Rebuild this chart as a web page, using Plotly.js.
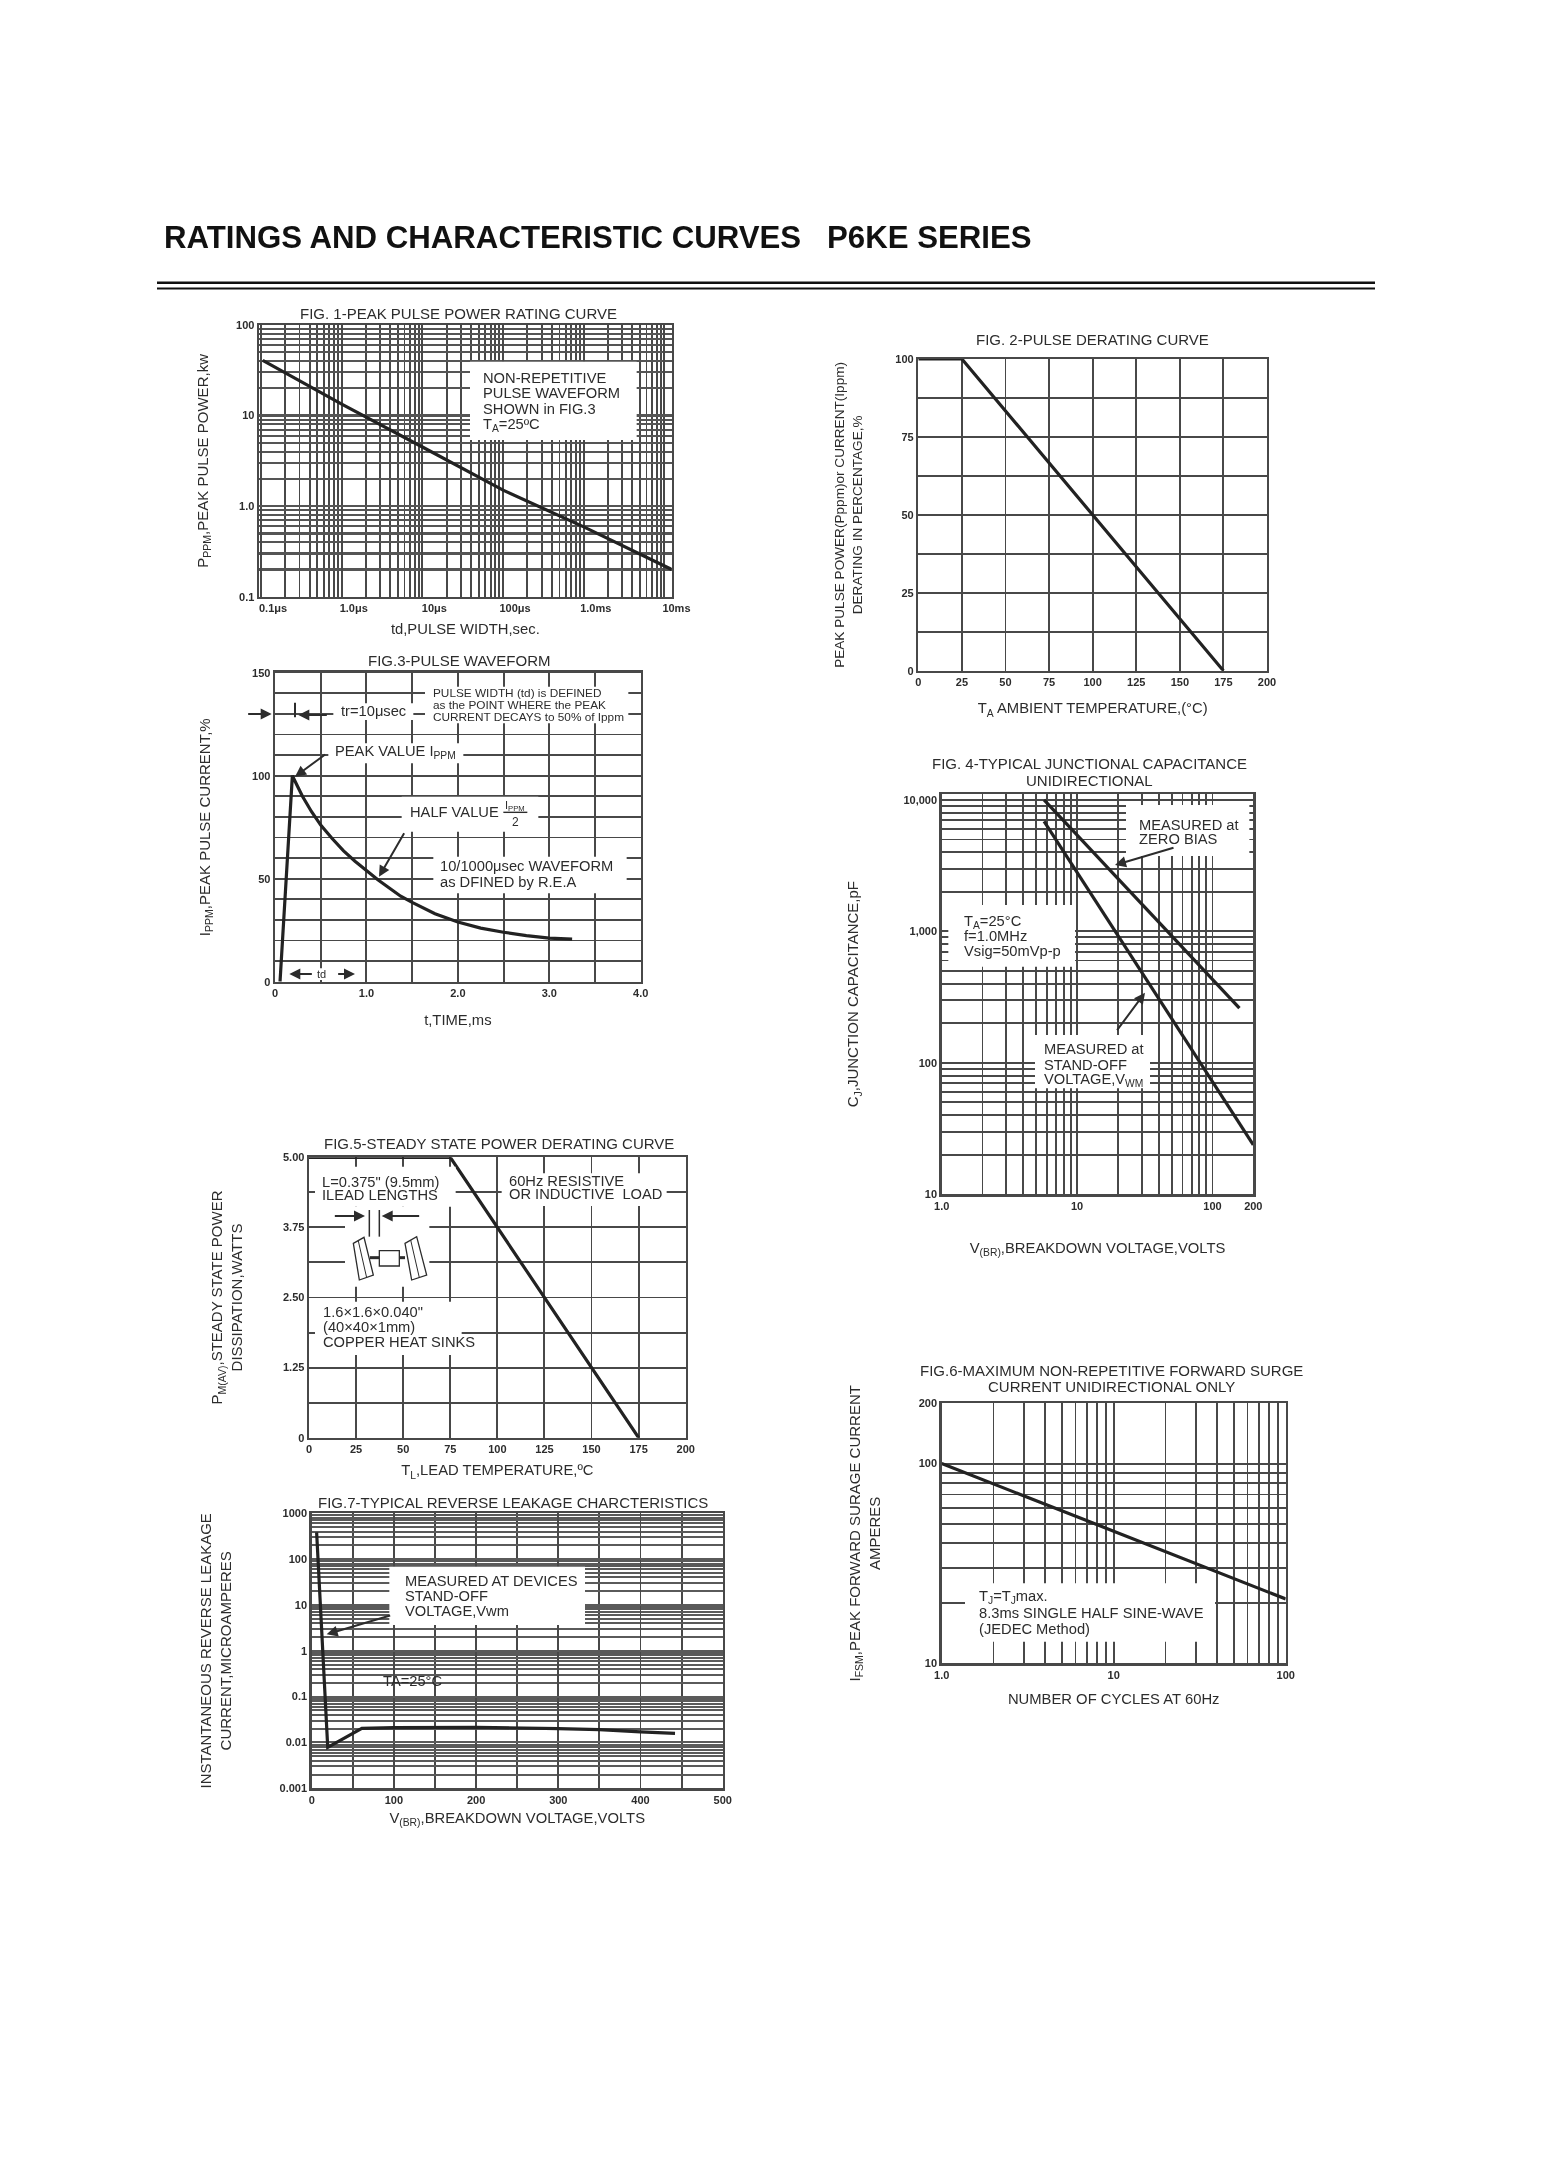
<!DOCTYPE html>
<html><head><meta charset="utf-8">
<script src="https://cdn.plot.ly/plotly-3.0.1.min.js"></script>
<style>html,body{margin:0;padding:0;background:#fff}#chart{width:1542px;height:2182px;filter:blur(0.55px)}</style>
</head><body><div id="chart"></div>
<script>
// ---------- data ----------
const fig1Width=[0.105,1,10,100,1000,12300];
const fig1Power=[40.7,13.4,4.5,1.5,0.59,0.2];
const fig1Ticks=[0.1,1,10,100,1000,10000];
const fig1TickText=['0.1μs','1.0μs','10μs','100μs','1.0ms','10ms'];
const fig1YTicks=[0.1,1,10,100];
const fig1YText=['0.1','1.0','10','100'];

const fig2Temp=[0,25,175];
const fig2Derate=[100,100,0];

const fig3Time=[0.055,0.19,0.25,0.3,0.4,0.5,0.625,0.75,0.875,1,1.125,1.25,1.375,1.5,1.75,2,2.25,2.5,2.75,3,3.25];
const fig3Current=[0,100,94.5,90,82.5,76,69.5,63.5,58.5,54,49.5,45.5,41.5,38.5,33,29,26,24,22.4,21.2,20.7];

const fig4VoltsZero=[5.7,158];
const fig4CapZero=[10000,261];
const fig4VoltsStand=[5.7,200];
const fig4CapStand=[6880,23.8];

const fig5Temp=[0,75,175];
const fig5Power=[5,5,0];

const fig6Cycles=[1,10,100];
const fig6Surge=[100,45.9,21];

const fig7Volts=[6,19.5,61,100,200,300,350,400,442];
const fig7Leak=[385,0.00785,0.0204,0.021,0.0215,0.02,0.019,0.017,0.0158];
const fig7YTicks=[0.001,0.01,0.1,1,10,100,1000];
const fig7YText=['0.001','0.01','0.1','1','10','100','1000'];

const temp200Ticks=[0,25,50,75,100,125,150,175,200];

// ---------- page geometry ----------
const W=1542,H=2182;
const ink='#2c2c2c', lineInk='#484848', curveInk='#222';
const family='"Liberation Sans",Arial,sans-serif';
const noteSize=14.7;
const PX=x=>x/W, PY=y=>1-y/H;
const layout={
  width:W,height:H,margin:{l:0,r:0,t:0,b:0},paper_bgcolor:'#fff',plot_bgcolor:'#fff',showlegend:false,
  font:{family:family,color:ink},
  title:{text:'RATINGS AND CHARACTERISTIC CURVES\u00a0\u00a0\u00a0P6KE SERIES',x:PX(164),xanchor:'left',xref:'paper',y:PY(237),yanchor:'middle',yref:'paper',
    font:{family:family,size:31.2,weight:'bold',color:'#111'}},
  annotations:[],shapes:[]
};
const traces=[];
let axisCount=0;
function baseAxis(){return {showline:true,mirror:true,linecolor:lineInk,linewidth:2.4,zeroline:false,ticks:'',
  showgrid:true,gridcolor:lineInk,gridwidth:1.9,tickfont:{size:11,weight:'bold',family:family,color:ink},
  tickmode:'array',automargin:false,fixedrange:true};}
function panel(o){
  axisCount++;
  const n=axisCount===1?'':axisCount;
  const xa=baseAxis(), ya=baseAxis();
  const yw=o.ygrid||1.9, yc=o.ygridcolor||lineInk;
  Object.assign(xa,{domain:[PX(o.box[0]),PX(o.box[2])],anchor:'y'+n,type:o.xlog?'log':'linear',range:o.xrange,tickvals:o.xticks,ticktext:o.xtext,
    title:{text:o.xtitle,standoff:o.xstand,font:{size:14.8,family:family,color:ink}},minor:{showgrid:true,dtick:o.xminor,gridcolor:lineInk,gridwidth:1.9,ticks:''},
    ticklabelstandoff:o.xlabelgap||0,ticklabelshift:o.xlabelshift||0});
  Object.assign(ya,{domain:[PY(o.box[3]),PY(o.box[1])],anchor:'x'+n,type:o.ylog?'log':'linear',range:o.yrange,tickvals:o.yticks,ticktext:o.ytext,gridwidth:yw,gridcolor:yc,
    title:{text:o.ytitle,standoff:o.ystand,font:{size:o.ysize||15,family:family,color:ink}},minor:{showgrid:true,dtick:o.yminor,gridcolor:yc,gridwidth:yw,ticks:''},
    ticklabelstandoff:o.ylabelgap||0});
  layout['xaxis'+n]=xa; layout['yaxis'+n]=ya;
  o.curves.forEach(c=>traces.push({type:'scatter',mode:'lines',x:c[0],y:c[1],xaxis:'x'+n,yaxis:'y'+n,line:{color:curveInk,width:3.2,simplify:false},cliponaxis:true,hoverinfo:'skip'}));
  o.caption.forEach((t,i)=>text(o.capX,o.capY+i*o.capGap,t,15,'center'));
}
function text(x,y,t,size,anchor,col){layout.annotations.push({xref:'paper',yref:'paper',x:PX(x),y:PY(y),text:t,showarrow:false,xanchor:anchor||'left',yanchor:'middle',font:{size:size||noteSize,family:family,color:col||ink}});}
function lines(ox,oy,zx,zy,arr,size,gap){arr.forEach((t,i)=>text(ox+zx/3,oy+(zy+i*gap)/3,t,size));}
function white(ox,oy,x0,y0,x1,y1){layout.shapes.push({type:'rect',xref:'paper',yref:'paper',layer:'above',x0:PX(ox+x0/3),x1:PX(ox+x1/3),y0:PY(oy+y0/3),y1:PY(oy+y1/3),fillcolor:'#fff',line:{width:0}});}
function seg(ox,oy,x0,y0,x1,y1,w){layout.shapes.push({type:'line',xref:'paper',yref:'paper',layer:'above',x0:PX(ox+x0/3),x1:PX(ox+x1/3),y0:PY(oy+y0/3),y1:PY(oy+y1/3),line:{color:ink,width:w||1.5}});}
function arrow(ox,oy,hx,hy,tx,ty){layout.annotations.push({xref:'paper',yref:'paper',x:PX(ox+hx/3),y:PY(oy+hy/3),ax:(tx-hx)/3,ay:(ty-hy)/3,axref:'pixel',ayref:'pixel',text:'',showarrow:true,arrowhead:2,arrowsize:1.1,arrowwidth:2,arrowcolor:ink});}
function poly(ox,oy,pts,fill){layout.shapes.push({type:'path',xref:'paper',yref:'paper',layer:'above',path:'M'+pts.map(p=>PX(ox+p[0]/3)+','+PY(oy+p[1]/3)).join('L')+'Z',fillcolor:fill||'#fff',line:{color:ink,width:1.3}});}

// ---------- FIG 1 ----------
panel({box:[259,325,671.7,596.7],xlog:true,ylog:true,ygrid:2.2,ygridcolor:'#555',xrange:[-1.025,4.09],yrange:[-1,2],xticks:fig1Ticks,xtext:fig1TickText,yticks:fig1YTicks,ytext:fig1YText,xminor:'D1',yminor:'D1',
  xtitle:'td,PULSE WIDTH,sec.',ytitle:'P<sub>PPM</sub>,PEAK PULSE POWER,kw',xstand:11,ystand:24,xlabelshift:12,
  caption:['FIG. 1-PEAK PULSE POWER RATING CURVE'],capX:458,capY:314,capGap:0,curves:[[fig1Width,fig1Power]]});
const o1=[240,310];
white(...o1,690,155,1190,390);
lines(...o1,722,203,['NON-REPETITIVE','PULSE WAVEFORM','SHOWN in FIG.3','T<sub>A</sub>=25ºC'],noteSize,47);

// ---------- FIG 2 ----------
panel({box:[918.3,359,1267,670.7],xrange:[0,200],yrange:[0,100],xticks:temp200Ticks,xtext:temp200Ticks.map(String),yticks:[0,25,50,75,100],ytext:['0','25','50','75','100'],xminor:25,yminor:12.5,
  xtitle:'T<sub>A</sub> AMBIENT TEMPERATURE,(°C)',ytitle:'PEAK PULSE POWER(Pppm)or CURRENT(Ippm)<br>DERATING IN PERCENTAGE,%',xstand:16,ystand:30,ysize:13.6,
  caption:['FIG. 2-PULSE DERATING CURVE'],capX:1092,capY:339,capGap:0,curves:[[fig2Temp,fig2Derate]]});

// ---------- FIG 3 ----------
panel({box:[275,672.7,640.7,981.7],xrange:[0,4],yrange:[0,150],xticks:[0,1,2,3,4],xtext:['0','1.0','2.0','3.0','4.0'],yticks:[0,50,100,150],ytext:['0','50','100','150'],xminor:0.5,yminor:10,
  xtitle:'t,TIME,ms',ytitle:'I<sub>PPM</sub>,PEAK PULSE CURRENT,%',xstand:17,ystand:38,
  caption:['FIG.3-PULSE WAVEFORM'],capX:459,capY:660,capGap:0,curves:[[fig3Time,fig3Current]]});
const o3=[180,640];
white(...o3,735,140,1345,250); white(...o3,460,190,700,240); white(...o3,445,310,850,370); white(...o3,665,470,1075,575); white(...o3,760,650,1340,760); white(...o3,320,985,530,1020);
lines(...o3,752,160,['PULSE WIDTH (td) is DEFINED','as the POINT WHERE the PEAK','CURRENT DECAYS to 50% of Ippm'],11.8,36);
text(180+478/3,640+213/3,'tr=10μsec');
text(180+460/3,640+337/3,'PEAK VALUE I<sub>PPM</sub>');
text(180+683/3,640+517/3,'HALF VALUE');
text(180+1005/3,640+497/3,'I<sub>PPM</sub>',11,'center');
seg(...o3,970,517,1042,517,1.4);
text(180+1005/3,640+545/3,'2',12,'center');
lines(...o3,775,678,['10/1000μsec WAVEFORM','as DFINED by R.E.A'],noteSize,48);
text(180+425/3,640+1003/3,'td',11,'center');
seg(...o3,345,188,345,232,2);
arrow(...o3,275,222,200,222); arrow(...o3,355,225,445,225);
arrow(...o3,345,410,440,340); arrow(...o3,597,710,675,575);
arrow(...o3,328,1002,400,1002); arrow(...o3,525,1002,470,1002);

// ---------- FIG 4 ----------
panel({box:[941.7,794,1253.3,1194.3],xlog:true,ylog:true,xrange:[0,2.301],yrange:[1,4.045],xticks:[1,10,100,200],xtext:['1.0','10','100','200'],yticks:[10,100,1000,10000],ytext:['10','100','1,000','10,000'],xminor:'D1',yminor:'D1',
  xtitle:'V<sub>(BR)</sub>,BREAKDOWN VOLTAGE,VOLTS',ytitle:'C<sub>J</sub>,JUNCTION CAPACITANCE,pF',xstand:32,ystand:41,
  caption:['FIG. 4-TYPICAL JUNCTIONAL CAPACITANCE','UNIDIRECTIONAL'],capX:1089,capY:764,capGap:16,curves:[[fig4VoltsZero,fig4CapZero],[fig4VoltsStand,fig4CapStand]]});
const o4=[840,750];
white(...o4,858,165,1228,318); white(...o4,325,465,705,650); white(...o4,585,855,930,1015);
lines(...o4,890,225,['MEASURED at','ZERO BIAS'],noteSize,41);
lines(...o4,365,515,['T<sub>A</sub>=25°C','f=1.0MHz','Vsig=50mVp-p'],noteSize,44);
lines(...o4,605,897,['MEASURED at','STAND-OFF','VOLTAGE,V<sub>WM</sub>'],noteSize,47);
arrow(...o4,825,345,1005,292); arrow(...o4,915,728,828,845);

// ---------- FIG 5 ----------
panel({box:[309,1157.3,685.7,1437.7],xrange:[0,200],yrange:[0,5],xticks:temp200Ticks,xtext:temp200Ticks.map(String),yticks:[0,1.25,2.5,3.75,5],ytext:['0','1.25','2.50','3.75','5.00'],xminor:25,yminor:0.625,
  xtitle:'T<sub>L</sub>,LEAD TEMPERATURE,ºC',ytitle:'P<sub>M(AV)</sub>,STEADY STATE POWER<br>DISSIPATION,WATTS',xstand:11,ystand:37,
  caption:['FIG.5-STEADY STATE POWER DERATING CURVE'],capX:499,capY:1143,capGap:0,curves:[[fig5Temp,fig5Power]]});
const o5=[290,1140];
white(...o5,75,80,497,200); white(...o5,165,200,418,440); white(...o5,75,485,515,645); white(...o5,635,100,1130,198);
lines(...o5,90,125,['L=0.375" (9.5mm)','ILEAD LENGTHS'],noteSize,40);
lines(...o5,650,122,['60Hz RESISTIVE','OR INDUCTIVE  LOAD'],noteSize,41);
lines(...o5,92,515,['1.6×1.6×0.040"','(40×40×1mm)','COPPER HEAT SINKS'],noteSize,45);
seg(...o5,238,210,238,290); seg(...o5,268,210,268,290);
arrow(...o5,225,228,130,228); arrow(...o5,275,228,392,228);
seg(...o5,240,353,268,353,3); seg(...o5,328,353,345,353,3);
poly(...o5,[[268,332],[328,332],[328,378],[268,378]]);
poly(...o5,[[190,310],[222,292],[250,405],[208,420]]);
seg(...o5,205,303,230,413,1);
poly(...o5,[[345,310],[380,290],[410,405],[365,420]]);
seg(...o5,362,300,388,413,1);

// ---------- FIG 6 ----------
panel({box:[941.7,1403.3,1285.7,1663.3],xlog:true,ylog:true,xrange:[0,2],yrange:[1,2.302],xticks:[1,10,100],xtext:['1.0','10','100'],yticks:[10,100,200],ytext:['10','100','200'],xminor:'D1',yminor:'D1',
  xtitle:'NUMBER OF CYCLES AT 60Hz',ytitle:'I<sub>FSM</sub>,PEAK FORWARD SURAGE CURRENT<br>AMPERES',xstand:14,ystand:35,
  caption:['FIG.6-MAXIMUM NON-REPETITIVE FORWARD SURGE','CURRENT UNIDIRECTIONAL ONLY'],capX:1111,capY:1370,capGap:16,curves:[[fig6Cycles,fig6Surge]]});
const o6=[840,1360];
white(...o6,375,670,1125,845);
lines(...o6,412,712,['T<sub>J</sub>=T<sub>J</sub>max.','8.3ms SINGLE HALF SINE-WAVE','(JEDEC Method)'],noteSize,47);

// ---------- FIG 7 ----------
panel({box:[311.7,1513.3,722.7,1788.3],ylog:true,ygrid:2,ygridcolor:'#5a5a5a',xrange:[0,500],yrange:[-3,3],xticks:[0,100,200,300,400,500],xtext:['0','100','200','300','400','500'],yticks:fig7YTicks,ytext:fig7YText,xminor:50,yminor:'D1',
  xtitle:'V<sub>(BR)</sub>,BREAKDOWN VOLTAGE,VOLTS',ytitle:'INSTANTANEOUS REVERSE LEAKAGE<br>CURRENT,MICROAMPERES',xstand:8,ystand:45,
  caption:['FIG.7-TYPICAL REVERSE LEAKAGE CHARCTERISTICS'],capX:513,capY:1502,capGap:0,curves:[[fig7Volts,fig7Leak]]});
const o7=[280,1500];
white(...o7,328,200,915,375);
lines(...o7,368,243,['MEASURED AT DEVICES','STAND-OFF','VOLTAGE,Vwm'],noteSize,45);
text(280+303/3,1500+542/3,'TA=25°C');
arrow(...o7,140,403,335,345);

// ---------- header rules ----------
[[282.7,2.4],[288.5,2.2]].forEach(r=>layout.shapes.push({type:'line',xref:'paper',yref:'paper',layer:'above',x0:PX(157),x1:PX(1375),y0:PY(r[0]),y1:PY(r[0]),line:{color:'#111',width:r[1]}}));

Plotly.newPlot('chart',traces,layout,{staticPlot:true,displayModeBar:false});
</script></body></html>
